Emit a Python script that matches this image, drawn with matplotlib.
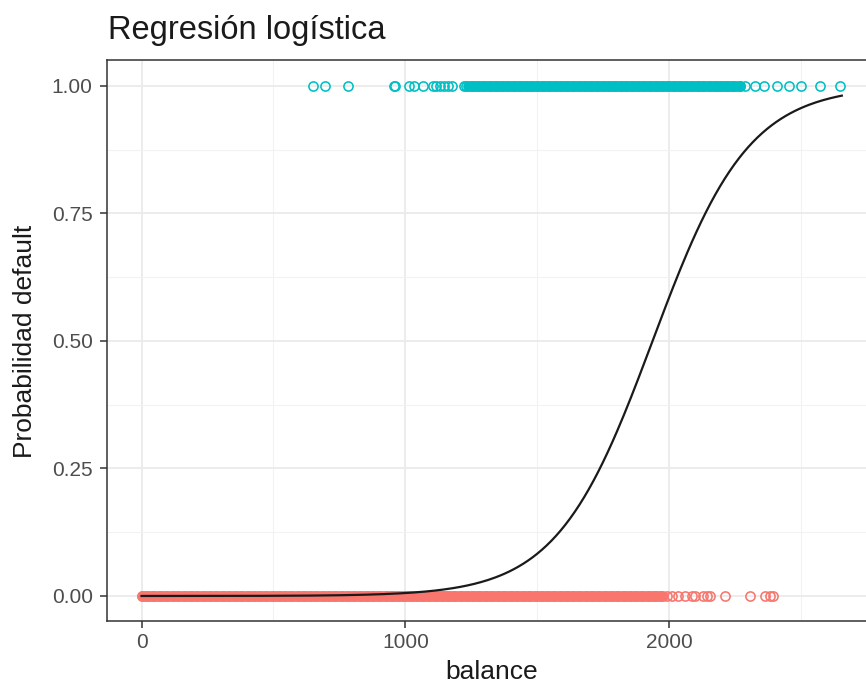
import numpy as np
import matplotlib.pyplot as plt

plt.rcParams['font.family'] = ['Liberation Sans', 'DejaVu Sans']

# balance of clients who did not default (default = 0)
balance_no = [0, 22, 45, 70, 93, 118, 140, 165, 188, 212, 236, 260, 283, 307,
              330, 355, 378, 402, 425, 450, 473, 497, 520, 545, 568, 592,
              615, 640, 663, 687, 710, 735, 758, 782, 805, 830, 853, 877,
              900, 925, 948, 972, 995, 1020, 1043, 1067, 1090, 1115, 1138,
              1162, 1185, 1210, 1233, 1257, 1280, 1305, 1328, 1352, 1375,
              1400, 1423, 1447, 1470, 1495, 1518, 1542, 1565, 1590, 1613,
              1637, 1660, 1685, 1708, 1732, 1755, 1780, 1803, 1827, 1850,
              1875, 1898, 1922, 1945, 1968, 1992, 2010, 2035, 2060, 2087,
              2098, 2129, 2144, 2155, 2212, 2307, 2364, 2383, 2394]

# balance of clients who defaulted (default = 1)
balance_yes = [650, 696, 783, 957, 962, 1015, 1034, 1068, 1106, 1118, 1130,
               1145, 1160, 1177, 1223, 1230, 1252, 1275, 1298, 1320, 1343,
               1366, 1388, 1410, 1433, 1456, 1478, 1500, 1523, 1546, 1568,
               1590, 1613, 1636, 1658, 1680, 1703, 1726, 1748, 1770, 1793,
               1816, 1838, 1860, 1883, 1906, 1928, 1950, 1973, 1996, 2018,
               2040, 2063, 2086, 2108, 2130, 2153, 2176, 2198, 2220, 2243,
               2269, 2288, 2326, 2360, 2409, 2455, 2500, 2572, 2647]

# balance ranges where the points overlap into a solid band
dense_no = (0, 1975)
dense_yes = (1238, 2268)

# fitted glm coefficients (logit link)
intercept = -10.65133
slope = 0.0054989
balance_max = 2654.3

red = '#F8766D'
cyan = '#00BFC4'

fig = plt.figure(figsize=(8.66, 6.84), dpi=100)
ax = fig.add_axes([0.123, 0.0914, 0.8895, 0.8202])

ax.set_xlim(-132.7, 2787.0)
ax.set_ylim(-0.05, 1.05)

ax.set_xticks([0, 1000, 2000])
ax.set_xticks([500, 1500, 2500], minor=True)
ax.set_yticks([0, 0.25, 0.5, 0.75, 1.0])
ax.set_yticks([0.125, 0.375, 0.625, 0.875], minor=True)
ax.set_yticklabels(['0.00', '0.25', '0.50', '0.75', '1.00'])
ax.grid(True, which='major', color='#EBEBEB', linewidth=1.3)
ax.grid(True, which='minor', color='#F2F2F2', linewidth=0.8)
ax.set_axisbelow(True)

ax.tick_params(which='major', length=5, width=1.1, color='#333333',
               labelsize=15, labelcolor='#4D4D4D')
ax.tick_params(axis='y', pad=5)
ax.tick_params(axis='x', pad=3)
ax.tick_params(which='minor', length=0)
for s in ax.spines.values():
    s.set_color('#333333')
    s.set_linewidth(1.1)

ms, mew = 6.6, 1.15
ax.hlines(0, dense_no[0], dense_no[1], color=red, linewidth=ms + mew,
          capstyle='round')
ax.hlines(1, dense_yes[0], dense_yes[1], color=cyan, linewidth=ms + mew,
          capstyle='round')
ax.plot(balance_no, np.zeros(len(balance_no)), linestyle='none', marker='o',
        markersize=ms, markerfacecolor='none', markeredgecolor=red,
        markeredgewidth=mew)
ax.plot(balance_yes, np.ones(len(balance_yes)), linestyle='none', marker='o',
        markersize=ms, markerfacecolor='none', markeredgecolor=cyan,
        markeredgewidth=mew)

xs = np.linspace(0, balance_max, 300)
ax.plot(xs, 1 / (1 + np.exp(-(intercept + slope * xs))), color='#1a1a1a',
        linewidth=1.6)

ax.set_xlabel('balance', fontsize=19, color='#1a1a1a')
ax.xaxis.set_label_coords(0.5, -0.103)
ax.xaxis.label.set_va('baseline')
ax.set_ylabel('Probabilidad default', fontsize=19, color='#1a1a1a')
ax.yaxis.set_label_coords(-0.106, 0.5)
ax.yaxis.label.set_va('center')
fig.text(108 / 866, 1 - 39 / 684, 'Regresión logística', fontsize=23.5,
         color='#1a1a1a', ha='left', va='baseline')

fig.savefig('out.png', dpi=100)
